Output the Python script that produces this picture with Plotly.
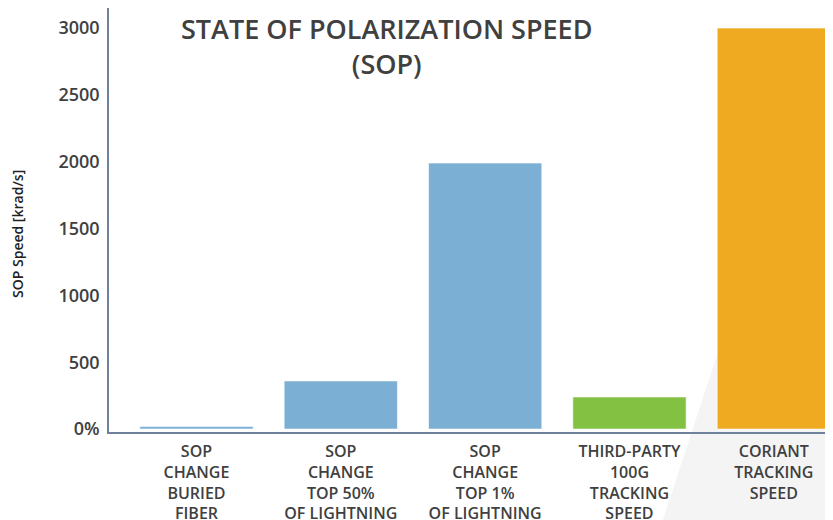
import plotly.graph_objects as go

categories = [
    "SOP<br>CHANGE<br>BURIED<br>FIBER",
    "SOP<br>CHANGE<br>TOP 50%<br>OF LIGHTNING",
    "SOP<br>CHANGE<br>TOP 1%<br>OF LIGHTNING",
    "THIRD-PARTY<br>100G<br>TRACKING<br>SPEED",
    "CORIANT<br>TRACKING<br>SPEED",
]
values = [20, 360, 1990, 240, 3000]
bar_colors = ["#7bafd4", "#7bafd4", "#7bafd4", "#82c142", "#f0aa22"]
tick_vals = [0, 500, 1000, 1500, 2000, 2500, 3000]
tick_text = ["0%", "500", "1000", "1500", "2000", "2500", "3000"]

FONT = "Open Sans"
TXT = "#404040"

fig = go.Figure(
    go.Bar(
        x=categories,
        y=values,
        marker=dict(color=bar_colors, line=dict(color="rgba(255,255,255,0.6)", width=1)),
        width=0.785,
    )
)

fig.update_layout(
    width=825,
    height=512,
    margin=dict(l=101, r=0, t=0, b=88, autoexpand=False),
    paper_bgcolor="white",
    plot_bgcolor="rgba(0,0,0,0)",
    showlegend=False,
    shapes=[
        dict(
            type="path",
            xref="paper",
            yref="paper",
            path="M 0.8398 0.1816 L 1.0 0.1816 L 1.0 -0.2075 L 0.765 -0.2075 Z",
            fillcolor="#f4f4f5",
            line=dict(width=0),
            layer="below",
        )
    ],
    annotations=[
        dict(
            text="STATE OF POLARIZATION SPEED<br>(SOP)",
            xref="paper",
            yref="paper",
            x=0.3833,
            y=0.9095,
            xanchor="center",
            yanchor="middle",
            showarrow=False,
            font=dict(family=FONT, size=27, color=TXT, weight=600),
        ),
        dict(
            text="SOP Speed [krad/s]",
            xref="paper",
            yref="paper",
            x=-0.1257,
            y=0.467,
            xanchor="center",
            yanchor="middle",
            textangle=-90,
            showarrow=False,
            font=dict(family=FONT, size=14, color="#222222", weight=600),
        ),
    ],
)

fig.update_xaxes(
    range=[-0.606, 4.41],
    showline=True,
    linecolor="#6f819a",
    linewidth=1.5,
    showgrid=False,
    ticks="",
    automargin=False,
    ticklabelstandoff=4,
    tickfont=dict(family=FONT, size=16, color=TXT, weight=600),
    fixedrange=True,
)
fig.update_yaxes(
    range=[-22, 3150],
    tickvals=tick_vals,
    ticktext=tick_text,
    showline=True,
    linecolor="#6f819a",
    linewidth=1.5,
    showgrid=False,
    zeroline=False,
    ticks="",
    automargin=False,
    ticklabelstandoff=4,
    tickfont=dict(family=FONT, size=18, color=TXT, weight=600),
    fixedrange=True,
)

fig.write_html("out.html", post_script="document.body.style.overflow='hidden';")
